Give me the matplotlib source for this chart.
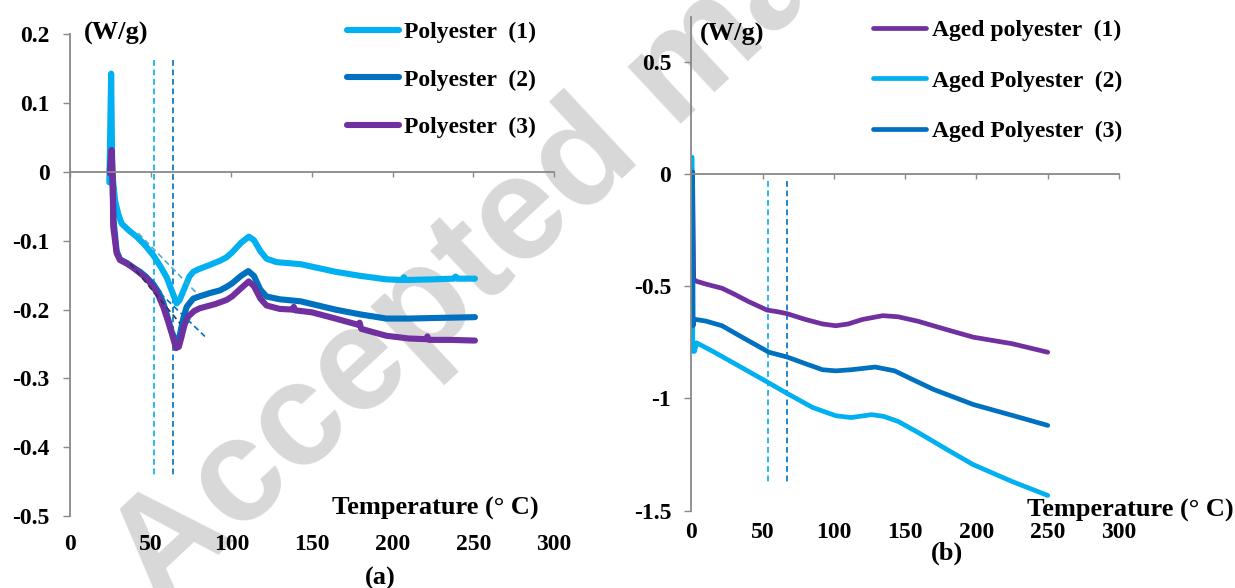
import matplotlib
matplotlib.use('Agg')
import matplotlib.pyplot as plt
import matplotlib.transforms as mtransforms
from matplotlib.font_manager import FontProperties
from matplotlib.lines import Line2D

plt.rcParams['axes.unicode_minus'] = False

# ---------------- data: panel (a) ----------------
poly1_x = [24.4, 25.5, 26.2, 27.9, 30, 32, 36.5, 41.3, 46, 51.6, 56, 59.9, 63, 66.1, 68, 71.3, 74, 76.4, 80,
           86.7, 93, 97, 100.4, 106, 110.8, 114, 118, 121.8, 128, 143, 164.5, 180, 196, 206, 207, 208, 225,
           238, 239, 240, 251]
poly1_y = [-0.015, 0.143, 0.0, -0.041, -0.062, -0.075, -0.085, -0.094, -0.105, -0.121, -0.137, -0.153, -0.172,
           -0.191, -0.186, -0.167, -0.152, -0.145, -0.141, -0.135, -0.129, -0.124, -0.117, -0.103, -0.094,
           -0.099, -0.115, -0.126, -0.131, -0.134, -0.145, -0.151, -0.156, -0.157, -0.153, -0.157, -0.156,
           -0.155, -0.152, -0.155, -0.155]

poly2_x = [24.6, 25.5, 26.3, 27, 28.9, 31, 35.1, 40, 43.4, 47, 51.6, 55, 57.8, 61, 63, 66.1, 68, 70, 72.3,
           76.4, 80, 86.7, 93, 97, 100.4, 106, 110.5, 114, 118, 121.8, 130, 143, 164.5, 180, 196, 210, 230, 251]
poly2_y = [0.0, 0.028, -0.01, -0.07, -0.115, -0.127, -0.132, -0.14, -0.145, -0.152, -0.163, -0.175, -0.19,
           -0.215, -0.232, -0.249, -0.238, -0.215, -0.196, -0.184, -0.181, -0.176, -0.172, -0.167, -0.162,
           -0.151, -0.144, -0.151, -0.171, -0.181, -0.185, -0.188, -0.200, -0.207, -0.213, -0.213, -0.212,
           -0.211]

poly3_x = [24.8, 25.8, 26.4, 26.8, 28.9, 31, 35.1, 39, 43.4, 47.5, 51.6, 54.5, 57.8, 60.5, 63, 65.7, 67.5,
           69.2, 71, 73.3, 77, 80.5, 90, 97, 100.4, 106, 110.8, 114, 118, 121.8, 130, 138, 138.7, 139.5, 150,
           164.5, 178.5, 179.5, 180.5, 196, 210, 221, 221.5, 222.5, 235, 251]
poly3_y = [-0.002, 0.032, 0.0, -0.0795, -0.118, -0.128, -0.133, -0.139, -0.147, -0.155, -0.167, -0.178,
           -0.196, -0.215, -0.234, -0.256, -0.254, -0.239, -0.222, -0.21, -0.202, -0.198, -0.192, -0.186,
           -0.181, -0.169, -0.159, -0.166, -0.184, -0.194, -0.199, -0.200, -0.196, -0.201, -0.204, -0.213,
           -0.222, -0.219, -0.228, -0.238, -0.242, -0.243, -0.239, -0.244, -0.244, -0.245]

a_labels = ['Polyester  (1)', 'Polyester  (2)', 'Polyester  (3)']
a_vlines_x = [52, 64]
a_vlines_y = [0.163, -0.44]
a_tangents = [([42.3, 78.5], [-0.089, -0.176]),
              ([37.2, 68.2], [-0.133, -0.220]),
              ([55.8, 83.6], [-0.176, -0.239])]
a_yticks = [0.2, 0.1, 0, -0.1, -0.2, -0.3, -0.4, -0.5]
a_yticklabels = ['0.2', '0.1', '0', '-0.1', '-0.2', '-0.3', '-0.4', '-0.5']

# ---------------- data: panel (b) ----------------
aged1_x = [0.8, 1.6, 3.7, 10, 21.5, 30, 40, 53, 60, 67, 80, 92, 101.3, 110, 120, 134.3, 145, 159, 180,
           197.8, 225, 250]
aged1_y = [0.01, -0.47, -0.478, -0.49, -0.509, -0.535, -0.568, -0.606, -0.613, -0.622, -0.648, -0.668,
           -0.676, -0.668, -0.648, -0.631, -0.636, -0.656, -0.695, -0.727, -0.756, -0.794]

aged2_x = [0.5, 1.0, 1.6, 2.2, 3.6, 15, 32.4, 50, 67, 85, 101.3, 112, 126.5, 135, 145.3, 160, 180, 197.8,
           225, 250]
aged2_y = [0.075, -0.79, -0.77, -0.79, -0.752, -0.79, -0.852, -0.915, -0.977, -1.04, -1.077, -1.085,
           -1.072, -1.08, -1.103, -1.155, -1.23, -1.295, -1.37, -1.432]

aged3_x = [0.8, 1.2, 2, 10, 21.5, 35, 54.4, 67, 80, 92, 101.3, 112, 129, 142.6, 155, 170, 197.8, 225, 250]
aged3_y = [0.01, -0.676, -0.647, -0.655, -0.676, -0.725, -0.794, -0.815, -0.845, -0.872, -0.877, -0.872,
           -0.86, -0.877, -0.915, -0.96, -1.027, -1.075, -1.12]

b_labels = ['Aged polyester  (1)', 'Aged Polyester  (2)', 'Aged Polyester  (3)']
b_vlines_x = [54, 67]
b_vlines_y = [-0.033, -1.378]
b_yticks = [0.5, 0, -0.5, -1, -1.5]
b_yticklabels = ['0.5', '0', '-0.5', '-1', '-1.5']

xticks = [0, 50, 100, 150, 200, 250, 300]

# ---------------- style ----------------
W, H = 1235, 588
LIGHT = '#00B0F0'
DARK = '#0070C0'
PURPLE = '#7030A0'
GRAY = '#898989'

tickfont = FontProperties(family='Liberation Serif', weight='bold', size=17)
titlefont = FontProperties(family='Liberation Serif', weight='bold', size=19)

fig = plt.figure(figsize=(W / 100, H / 100), dpi=100)


def px_axes(x0, x1, ytop, ybot):
    return fig.add_axes([x0 / W, 1 - ybot / H, (x1 - x0) / W, (ybot - ytop) / H])


def style(ax, ylim, yticks, yticklabels, xlab_y):
    ax.patch.set_visible(False)
    ax.set_xlim(0, 300)
    ax.set_ylim(*ylim)
    for s in ['top', 'right']:
        ax.spines[s].set_visible(False)
    ax.spines['left'].set_color(GRAY)
    ax.spines['left'].set_linewidth(1.3)
    ax.spines['bottom'].set_position(('data', 0))
    ax.spines['bottom'].set_color(GRAY)
    ax.spines['bottom'].set_linewidth(1.3)
    ax.set_xticks(xticks)
    ax.set_yticks(yticks)
    ax.set_yticklabels(yticklabels, fontproperties=tickfont)
    ax.tick_params(axis='y', direction='out', length=5, width=1, color=GRAY, pad=9.5)
    ax.tick_params(axis='x', direction='out', length=3.5, width=1, color=GRAY, labelbottom=False)
    trans = mtransforms.blended_transform_factory(ax.transData, fig.transFigure)
    for t in xticks:
        ax.text(t, 1 - xlab_y / H, str(t), transform=trans, ha='center', va='center',
                fontproperties=tickfont)


# watermark
fig.text(160 / W, 1 - 610 / H, 'Accepted manuscript', rotation=43, rotation_mode='anchor',
         ha='left', va='baseline', fontsize=106, family='Liberation Sans', weight='bold',
         color='#D8D8D8', zorder=-1)

# ---------------- panel (a) ----------------
axL = px_axes(70, 554, 34.4, 516)
style(axL, (-0.5, 0.2), a_yticks, a_yticklabels, 544)
for vx, c in zip(a_vlines_x, [LIGHT, DARK]):
    axL.plot([vx, vx], a_vlines_y, color=c, lw=1.2, ls=(0, (3.5, 2.2)))
for (tx, ty), c in zip(a_tangents, ['#4BACC6', '#1F3864', DARK]):
    axL.plot(tx, ty, color=c, lw=1.2, ls=(0, (3.5, 2.2)), zorder=3)
lw_a = 4.4
for xs, ys, c in zip([poly1_x, poly2_x, poly3_x], [poly1_y, poly2_y, poly3_y], [LIGHT, DARK, PURPLE]):
    axL.plot(xs, ys, color=c, lw=lw_a, solid_capstyle='round', solid_joinstyle='round', zorder=2)
handles_a = [Line2D([], [], color=c, lw=lw_a, solid_capstyle='round') for c in [LIGHT, DARK, PURPLE]]
axL.legend(handles_a, a_labels, loc='upper left', bbox_to_anchor=(347 / W, 1 - 21.5 / H),
           bbox_transform=fig.transFigure, frameon=False, borderpad=0, borderaxespad=0,
           handlelength=2.2, handletextpad=0.22, labelspacing=1.1, prop=tickfont)
fig.text(84 / W, 1 - 33 / H, '(W/g)', ha='left', va='center', fontproperties=titlefont)
fig.text(332 / W, 1 - 508 / H, 'Temperature (° C)', ha='left', va='center', fontproperties=titlefont)
fig.text(380 / W, 1 - 578 / H, '(a)', ha='center', va='center', fontproperties=titlefont)

# ---------------- panel (b) ----------------
axR = px_axes(691.4, 1119, 16.9, 510.7)
style(axR, (-1.5, 0.7), b_yticks, b_yticklabels, 533)
for vx, c in zip(b_vlines_x, [LIGHT, DARK]):
    axR.plot([vx, vx], b_vlines_y, color=c, lw=1.2, ls=(0, (3.5, 2.2)))
lw_b = 3.4
for xs, ys, c in zip([aged1_x, aged2_x, aged3_x], [aged1_y, aged2_y, aged3_y], [PURPLE, LIGHT, DARK]):
    axR.plot(xs, ys, color=c, lw=lw_b, solid_capstyle='round', solid_joinstyle='round', zorder=2)
handles_b = [Line2D([], [], color=c, lw=lw_b, solid_capstyle='round') for c in [PURPLE, LIGHT, DARK]]
axR.legend(handles_b, b_labels, loc='upper left', bbox_to_anchor=(873 / W, 1 - 19.5 / H),
           bbox_transform=fig.transFigure, frameon=False, borderpad=0, borderaxespad=0,
           handlelength=2.25, handletextpad=0.25, labelspacing=1.23, prop=tickfont)
fig.text(700 / W, 1 - 34 / H, '(W/g)', ha='left', va='center', fontproperties=titlefont)
fig.text(1027 / W, 1 - 510 / H, 'Temperature (° C)', ha='left', va='center', fontproperties=titlefont)
fig.text(946.6 / W, 1 - 553 / H, '(b)', ha='center', va='center', fontproperties=titlefont)

fig.savefig('out.png', dpi=100)
